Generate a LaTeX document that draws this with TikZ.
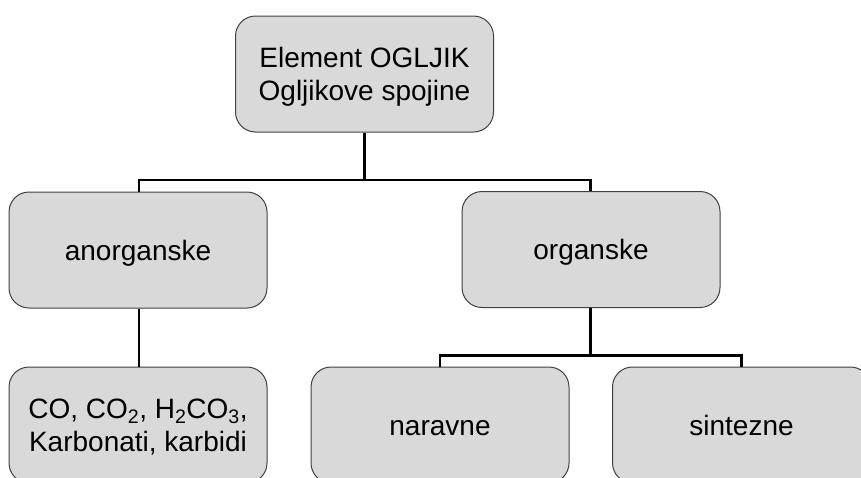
\documentclass[tikz,border=0pt]{standalone}
\usepackage{fontspec}
\setmainfont{Liberation Sans}
\definecolor{boxfill}{HTML}{D9D9D9}
\definecolor{boxline}{HTML}{404040}
\begin{document}
\begin{tikzpicture}[x=1pt,y=-1pt,
  box/.style={draw=boxline,line width=1pt,fill=boxfill,rounded corners=20pt,
    minimum width=258pt,minimum height=116pt,inner sep=0pt,align=center,
    text height=20pt,text depth=0pt,
    font=\fontsize{28}{33}\selectfont},
  twoline/.style={text height=53pt,text depth=0pt},
  conn/.style={draw=black,line width=2.8pt}]
\useasboundingbox (0,0) rectangle (861,477);
\clip (0,0) rectangle (861,477);
\node[box,twoline] (top) at (364.5,74) {Element OGLJIK\\Ogljikove spojine};
\node[box] (anorg) at (138,250) {anorganske};
\node[box] (org) at (591,249.5) {organske};
\node[box,twoline] (inorgex) at (138,425) {CO, CO\textsubscript{2}, H\textsubscript{2}CO\textsubscript{3},\\Karbonati, karbidi};
\node[box] (nar) at (440,425) {naravne};
\node[box] (sin) at (741.5,425) {sintezne};
\coordinate (j1) at (364.5,180);
\coordinate (j2) at (590.5,355.5);
\draw[conn] (top.south) -- (j1);
\draw[conn] (anorg.north -| 139,0) |- (j1) -| (org.north -| 590.5,0);
\draw[conn] (anorg.south -| 139,0) -- (inorgex.north -| 139,0);
\draw[conn] (org.south -| 590.5,0) -- (j2);
\draw[conn] (nar.north) |- (j2) -| (sin.north);
\end{tikzpicture}
\end{document}
